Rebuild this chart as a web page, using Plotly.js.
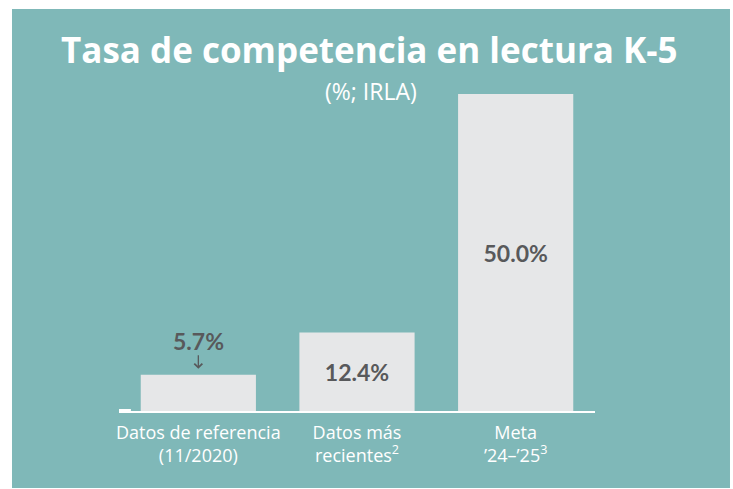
<!DOCTYPE html>
<html><head><meta charset="utf-8">
<script src="https://cdn.plot.ly/plotly-3.0.1.min.js"></script>
<style>html,body{margin:0;padding:0;background:#fff}#chart{width:733px;height:489px}</style>
</head><body><div id="chart"></div>
<script>
const categories = ["Datos de referencia<br>(11/2020)", "Datos más<br>recientes<sup>2</sup>", "Meta<br>’24–’25<sup>3</sup>"];
const values = [5.7, 12.4, 50.0];
const labels = ["5.7%", "12.4%", "50.0%"];
const labelPositions = ["none", "inside", "inside"];
const titleText = "Tasa de competencia en lectura K-5";
const subtitleText = "(%; IRLA)";

const teal = "#7FB8B8";
const FONT = "'Open Sans', sans-serif";
const NUMFONT = "Lato, 'Open Sans', sans-serif";
const grey = "#58595B";

const trace = {
  type: "bar",
  x: categories,
  y: values,
  marker: {color: "#E6E7E8", line: {width: 0}},
  text: labels,
  textposition: labelPositions,
  insidetextanchor: "middle",
  textfont: {family: NUMFONT, size: 23, color: grey, weight: 700},
  cliponaxis: false,
  hoverinfo: "skip"
};

const layout = {
  width: 733, height: 489,
  margin: {l: 119, r: 138, t: 94, b: 78, pad: 0},
  paper_bgcolor: "#ffffff",
  plot_bgcolor: "rgba(0,0,0,0)",
  bargap: 0.274,
  showlegend: false,
  font: {family: FONT, color: "#ffffff"},
  xaxis: {
    type: "category",
    range: [-0.5, 2.5],
    showgrid: false, zeroline: false,
    showline: true, linecolor: "#ffffff", linewidth: 2,
    ticks: "", tickfont: {family: FONT, size: 18, color: "#ffffff"},
    ticklabelstandoff: 4,
    fixedrange: true
  },
  yaxis: {
    range: [0, 50],
    visible: false, showgrid: false, zeroline: false,
    fixedrange: true
  },
  shapes: [
    {type: "rect", xref: "paper", yref: "paper", layer: "below",
     x0: -0.2248, x1: 1.2836, y0: -0.2429, y1: 1.268,
     fillcolor: teal, line: {width: 0}},
    {type: "line", xref: "paper", yref: "paper", layer: "above",
     x0: 0.0, x1: 0.025, y0: 0, y1: 0,
     line: {color: "#ffffff", width: 4}}
  ],
  annotations: [
    {text: titleText, xref: "paper", yref: "paper", x: 0.527, y: 1.139,
     xanchor: "center", yanchor: "middle", showarrow: false,
     font: {family: FONT, size: 35, color: "#ffffff", weight: 700}},
    {text: subtitleText, xref: "paper", yref: "paper", x: 0.53, y: 1.01,
     xanchor: "center", yanchor: "middle", showarrow: false,
     font: {family: FONT, size: 23, color: "#ffffff"}},
    {text: labels[0], x: categories[0], y: values[0], xref: "x", yref: "y",
     showarrow: true, ax: 0, ay: -34, axref: "pixel", ayref: "pixel",
     arrowhead: 4, arrowsize: 1.2, arrowwidth: 1.3, arrowcolor: grey,
     standoff: 6, borderpad: 0,
     font: {family: NUMFONT, size: 23, color: grey, weight: 700}}
  ]
};

Plotly.newPlot("chart", [trace], layout, {displayModeBar: false, staticPlot: true});
</script></body></html>
